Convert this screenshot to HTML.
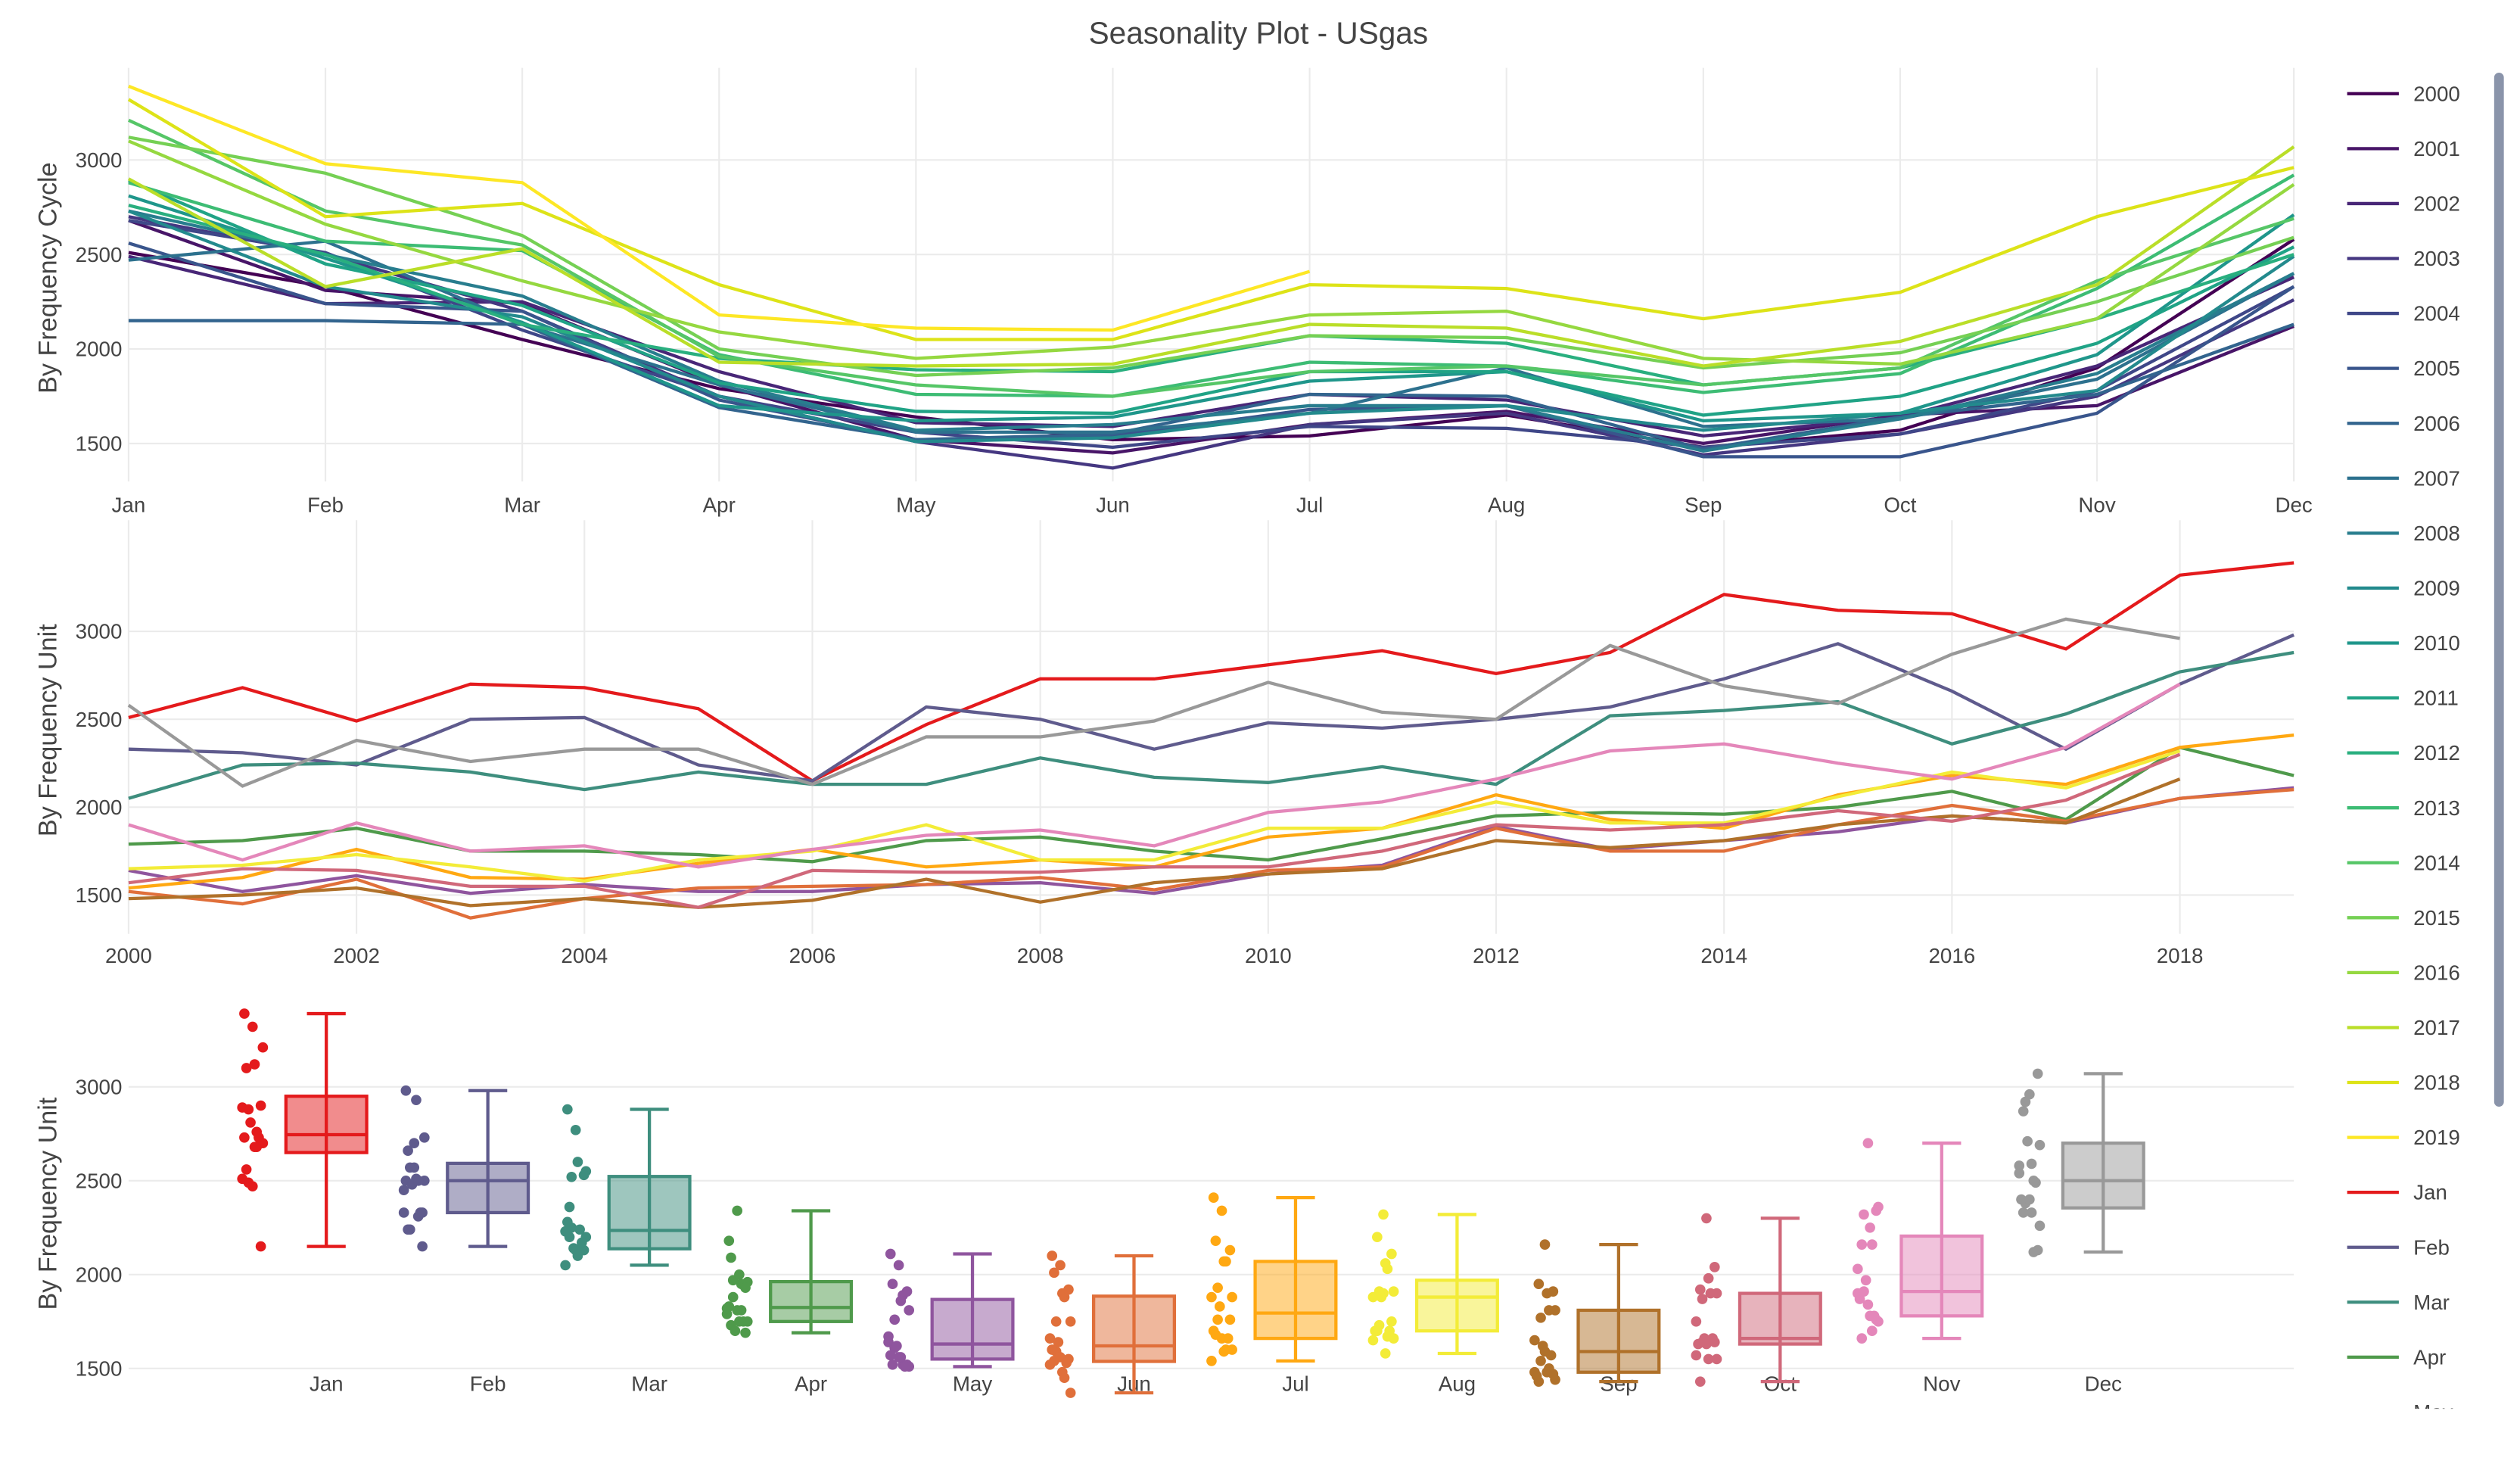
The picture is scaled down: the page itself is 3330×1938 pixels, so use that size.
<!DOCTYPE html>
<html><head><meta charset="utf-8"><style>
html,body{margin:0;padding:0;background:#fff;overflow:hidden;width:3330px;height:1938px;}
svg{display:block;font-family:"Liberation Sans",sans-serif;}
</style></head><body>
<svg id="chart" width="3330" height="1938" viewBox="0 0 1560 908" preserveAspectRatio="none" xmlns="http://www.w3.org/2000/svg">
<text x="779" y="27" text-anchor="middle" font-size="19" fill="#444">Seasonality Plot - USgas</text>
<g id="g1"></g>
<g id="g2"></g>
<g id="g3"></g>
<g id="leg"></g>
<rect x="1544" y="45" width="6" height="640" rx="3" fill="#8a94aa"/>
</svg>
<script>
const monthNames=["Jan","Feb","Mar","Apr","May","Jun","Jul","Aug","Sep","Oct","Nov","Dec"];
const years=[2000,2001,2002,2003,2004,2005,2006,2007,2008,2009,2010,2011,2012,2013,2014,2015,2016,2017,2018,2019];
const janVals=[2510,2680,2490,2700,2680,2560,2150,2470,2730,2730,2810,2890,2760,2880,3210,3120,3100,2900,3320,3390];
const febVals=[2330,2310,2240,2500,2510,2240,2150,2570,2500,2330,2480,2450,2500,2570,2730,2930,2660,2330,2700,2980];
const marVals=[2050,2240,2250,2200,2100,2200,2130,2130,2280,2170,2140,2230,2130,2520,2550,2600,2360,2530,2770,2880];
const aprVals=[1790,1810,1880,1750,1750,1730,1690,1810,1830,1750,1700,1820,1950,1970,1960,2000,2090,1930,2340,2180];
const mayVals=[1640,1520,1610,1510,1560,1520,1520,1560,1570,1510,1620,1670,1890,1760,1810,1860,1950,1910,2050,2110];
const junVals=[1520,1450,1590,1370,1480,1540,1550,1560,1600,1530,1640,1660,1880,1750,1750,1900,2010,1920,2050,2100];
const julVals=[1540,1600,1760,1600,1590,1680,1760,1660,1700,1660,1830,1880,2070,1930,1880,2070,2180,2130,2340,2410];
const augVals=[1650,1670,1730,1660,1580,1700,1750,1900,1700,1700,1880,1880,2030,1910,1910,2060,2200,2110,2320];
const sepVals=[1480,1500,1540,1440,1480,1430,1470,1590,1460,1570,1620,1650,1810,1770,1810,1900,1950,1910,2160];
const octVals=[1570,1650,1640,1550,1550,1430,1640,1630,1630,1660,1660,1750,1900,1870,1900,1980,1920,2040,2300];
const novVals=[1900,1700,1910,1750,1780,1660,1760,1840,1870,1780,1970,2030,2160,2320,2360,2250,2160,2340,2700];
const decVals=[2580,2120,2380,2260,2330,2330,2130,2400,2400,2490,2710,2540,2500,2920,2690,2590,2870,3070,2960];
const yTicks=[1500,2000,2500,3000];
const yearTicks=[2000,2002,2004,2006,2008,2010,2012,2014,2016,2018];

const monthData=[janVals,febVals,marVals,aprVals,mayVals,junVals,julVals,augVals,sepVals,octVals,novVals,decVals];
const monthColors=["#e41a1c","#5f5b8d","#3e8e7e","#4f9a4b","#8f559e","#e06f3a","#ffa812","#f3ec38","#b0712a","#d0687a","#e487ba","#999999"];
const viridis=["#440154","#481568","#482677","#453781","#3f4788","#39558c","#32648e","#2d718e","#287d8e","#238a8d","#1f968b","#20a386","#29af7f","#3dbc74","#56c667","#75d054","#95d840","#bade28","#dde318","#fde725"];
const NS="http://www.w3.org/2000/svg";
function el(tag,attrs,parent){const e=document.createElementNS(NS,tag);for(const k in attrs)e.setAttribute(k,attrs[k]);parent.appendChild(e);return e;}
const L=79.6,R=1420;
function yAxis(g,y0,yPer500,title,ty){
  const f=v=>y0-(v-1500)/500*yPer500;
  yTicks.forEach(t=>{
    const ln=el("line",{x1:L,x2:R,y1:f(t),y2:f(t),stroke:"#ebebeb","stroke-width":1},g);
    
    
    const tx=el("text",{x:L-4,y:f(t)+4.5,"text-anchor":"end","font-size":13,fill:"#444"},g);
    tx.textContent=t;
    
    
  });
  const at=el("text",{x:0,y:0,transform:`translate(35,${ty}) rotate(-90)`,"text-anchor":"middle","font-size":16,fill:"#444"},g);
  at.textContent=title;
  
  
  return f;
}
// Panel 1
const g1=document.getElementById("g1");
const xm=i=>L+i*(R-L)/11;
monthNames.forEach((m,i)=>{
  const ln=el("line",{x1:xm(i),x2:xm(i),y1:42,y2:298,stroke:"#ebebeb"},g1);
  
  
  const t=el("text",{x:xm(i),y:317,"text-anchor":"middle","font-size":13,fill:"#444"},g1);
  t.textContent=m;
  
  
});
const f1=yAxis(g1,274.5,58.5,"By Frequency Cycle",172);
years.forEach((yr,yi)=>{
  const pts=[];
  monthData.forEach((arr,mi)=>{if(arr[yi]!==undefined)pts.push(xm(mi)+","+f1(arr[yi]));});
  const p=el("polyline",{points:pts.join(" "),fill:"none",stroke:viridis[yi],"stroke-width":2},g1);
  
  
});
// Panel 2
const g2=document.getElementById("g2");
const xy=y=>L+(y-2000)*(R-L)/19;
yearTicks.forEach(y=>{
  const ln=el("line",{x1:xy(y),x2:xy(y),y1:322,y2:578,stroke:"#ebebeb"},g2);
  
  
  const t=el("text",{x:xy(y),y:596,"text-anchor":"middle","font-size":13,fill:"#444"},g2);
  t.textContent=y;
  
  
});
const f2=yAxis(g2,554,54.4,"By Frequency Unit",452);
monthData.forEach((arr,mi)=>{
  const pts=arr.map((v,i)=>xy(years[i])+","+f2(v));
  const p=el("polyline",{points:pts.join(" "),fill:"none",stroke:monthColors[mi],"stroke-width":2},g2);
  
  
});
// Panel 3
const g3=document.getElementById("g3");
const f3=yAxis(g3,847,58.1,"By Frequency Unit",745);
const xb=i=>202+i*100;
function q(s,p){const pos=(s.length-1)*p,lo=Math.floor(pos),hi=Math.ceil(pos);return s[lo]+(s[hi]-s[lo])*(pos-lo);}
monthData.forEach((arr,mi)=>{
  const c=monthColors[mi];
  const s=[...arr].sort((a,b)=>a-b);
  const q1=q(s,0.25),med=q(s,0.5),q3=q(s,0.75),mn=s[0],mx=s[s.length-1];
  const t=el("text",{x:xb(mi),y:861,"text-anchor":"middle","font-size":13,fill:"#444"},g3);
  t.textContent=monthNames[mi];
  
  
  const bx=xb(mi),hw=25;
  const wl=el("line",{x1:bx,x2:bx,y1:f3(mx),y2:f3(mn),stroke:c,"stroke-width":2},g3);
  
  
  [mn,mx].forEach(v=>{const cap=el("line",{x1:bx-12,x2:bx+12,y1:f3(v),y2:f3(v),stroke:c,"stroke-width":2},g3);
    
    });
  const r=el("rect",{x:bx-hw,y:f3(q3),width:2*hw,height:f3(q1)-f3(q3),fill:c,"fill-opacity":0.5,stroke:c,"stroke-width":2},g3);
  
  
  const md=el("line",{x1:bx-hw,x2:bx+hw,y1:f3(med),y2:f3(med),stroke:c,"stroke-width":2},g3);
  
  
  arr.forEach((v,i)=>{
    const jit=((i*7)%11)/11*14-7;
    const d=el("circle",{cx:bx-45+jit,cy:f3(v),r:3.2,fill:c},g3);
    
    
  });
});
// Legend
const leg=document.getElementById("leg");
const labels=years.map(String).concat(monthNames);
const lcols=viridis.concat(monthColors);
const clip=el("clipPath",{id:"lc"},leg);el("rect",{x:1440,y:42,width:100,height:830},clip);
const lg=el("g",{"clip-path":"url(#lc)"},leg);
labels.forEach((lb,i)=>{
  const y=58+i*34;
  const ln=el("line",{x1:1453,x2:1485,y1:y,y2:y,stroke:lcols[i],"stroke-width":2},lg);
  
  
  const t=el("text",{x:1494,y:y+4.5,"font-size":13,fill:"#444"},lg);
  t.textContent=lb;
  
  
});
</script>
</body></html>
